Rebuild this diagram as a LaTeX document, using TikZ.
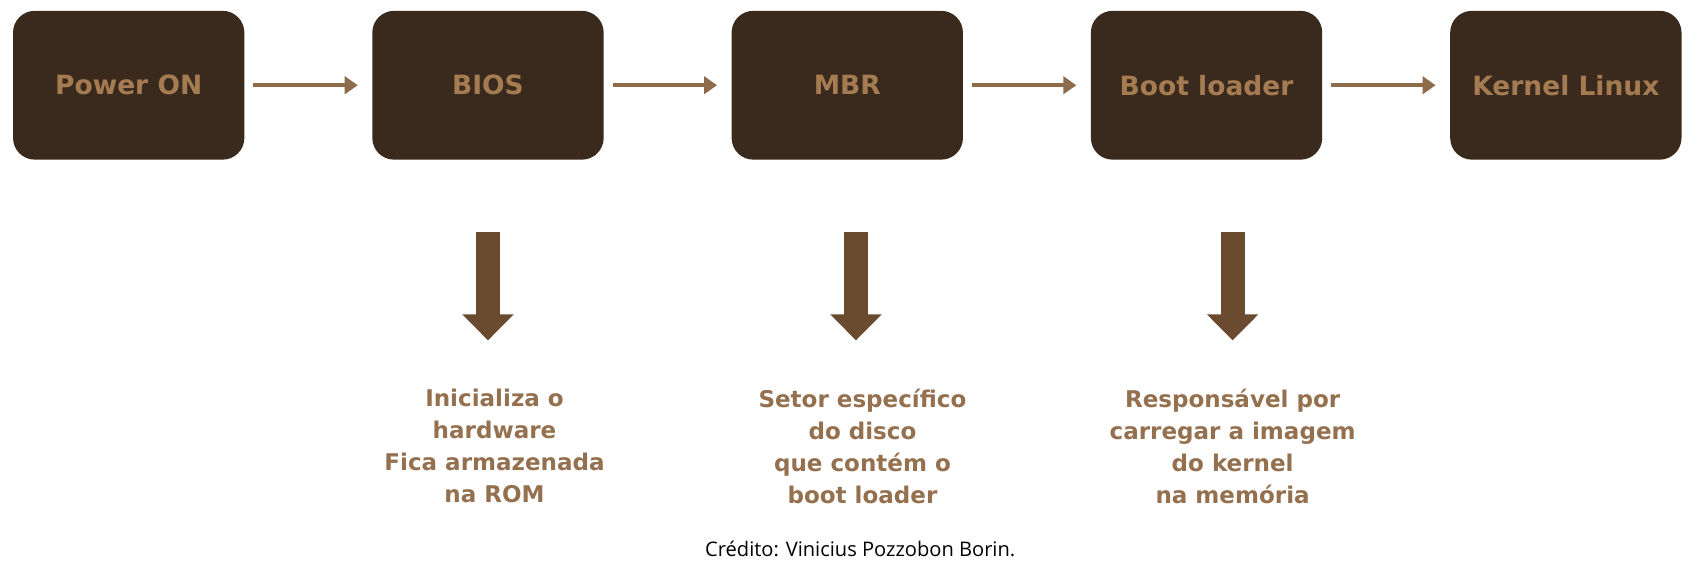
\documentclass[tikz,border=0pt]{standalone}
\usepackage{fontspec}
\setmainfont{DejaVu Sans}
\newfontfamily\creditfont{Open Sans}
\usetikzlibrary{positioning,arrows.meta}
\definecolor{boxfill}{HTML}{3A2A1D}
\definecolor{boxtext}{HTML}{A57C52}
\definecolor{linkcol}{HTML}{8D6B4B}
\definecolor{downcol}{HTML}{6A4B2F}
\definecolor{notetext}{HTML}{94704E}
\tikzset{
  stage/.style={rectangle, rounded corners=10pt, fill=boxfill, minimum width=106.5pt,
    minimum height=68.5pt, text=boxtext, font=\fontsize{12.2}{14}\selectfont\bfseries},
  note/.style={align=center, inner sep=0pt, text=notetext,
    font=\fontsize{10.6}{14.75}\selectfont\bfseries},
  link/.style={draw=linkcol, line width=2pt, -{Triangle[length=6pt,width=8pt]},
    shorten <=4pt, shorten >=6.5pt},
  godown/.style={draw=downcol, line width=11pt, -{Triangle[length=12pt,width=23pt]},
    shorten <=33pt, shorten >=22pt}
}
\begin{document}
\begin{tikzpicture}[x=0.5pt,y=0.5pt]
  \useasboundingbox (0,0) rectangle (1568,-528);
  \node[stage] (pwr) at (118.5,-78.5) {Power ON};
  \node[stage, right=58.5pt of pwr] (bios) {BIOS};
  \node[stage, right=58.5pt of bios] (mbr) {MBR};
  \node[stage, right=58.5pt of mbr] (boot) {Boot loader};
  \node[stage, right=58.5pt of boot] (kern) {Kernel Linux};

  \node[note, below=105pt of bios, xshift=3pt] (biosnote) {Inicializa o\\ hardware\\ Fica armazenada\\ na ROM};
  \node[note, below=105pt of mbr, xshift=7pt] (mbrnote) {Setor específico\\ do disco\\ que contém o\\ boot loader};
  \node[note, below=105pt of boot, xshift=12pt] (bootnote) {Responsável por\\ carregar a imagem\\ do kernel\\ na memória};

  \node[font=\creditfont\fontsize{9.25}{11}\selectfont] (credit) at (792,-505) {Crédito: Vinicius Pozzobon Borin.};

  \begin{scope}[every path/.style={link}]
    \draw (pwr) -- (bios);
    \draw (bios) -- (mbr);
    \draw (mbr) -- (boot);
    \draw (boot) -- (kern);
  \end{scope}
  \begin{scope}[every path/.style={godown}]
    \draw (bios.south) -- (bios.south |- biosnote.north);
    \draw ([xshift=4pt]mbr.south) -- ([xshift=4pt]mbr.south |- mbrnote.north);
    \draw ([xshift=12pt]boot.south) -- ([xshift=12pt]boot.south |- bootnote.north);
  \end{scope}
\end{tikzpicture}
\end{document}
